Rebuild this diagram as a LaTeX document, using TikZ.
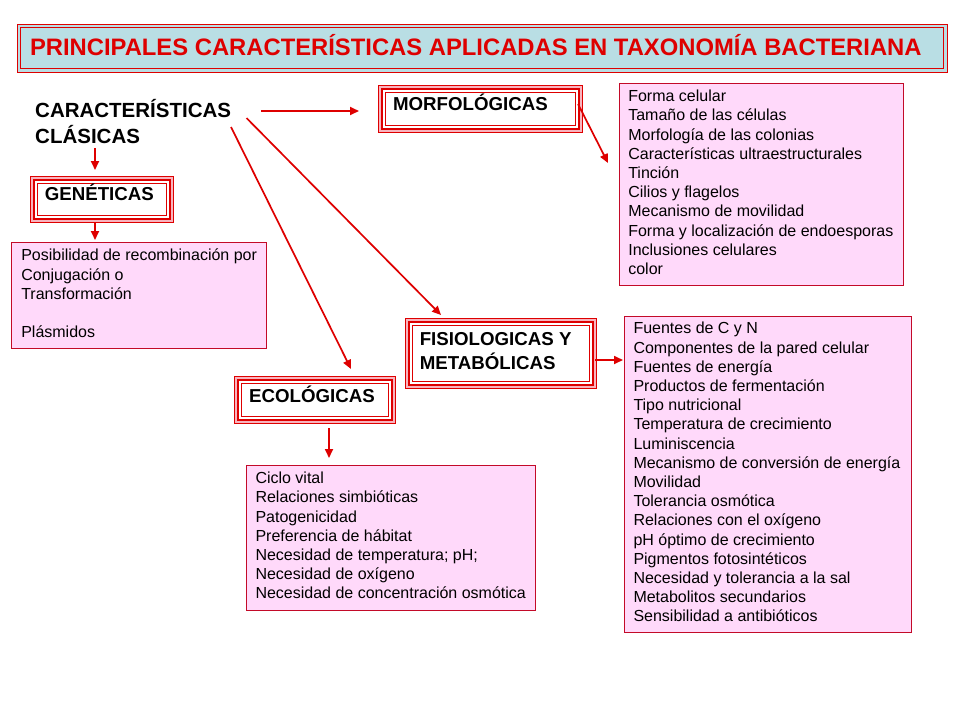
\documentclass[tikz,border=0pt]{standalone}
\usepackage{fontspec}
\setmainfont{Liberation Sans}
\usetikzlibrary{arrows.meta,backgrounds}
\definecolor{fred}{RGB}{222,0,0}
\definecolor{band}{RGB}{248,180,190}
\definecolor{tblue}{RGB}{185,222,228}
\definecolor{lpink}{RGB}{255,217,250}
\definecolor{lborder}{RGB}{195,10,40}
\newcommand\outerframe[1]{%
  \begin{scope}[on background layer]
  \draw[fred,line width=0.8pt,fill=band] ([shift={(-3.4pt,3.4pt)}]#1.north west) rectangle ([shift={(3.4pt,-3.4pt)}]#1.south east);
  \end{scope}}
\tikzset{
  innerline/.style={path picture={\draw[fred,line width=0.8pt]
     ([shift={(#1,-#1)}]path picture bounding box.north west) rectangle
     ([shift={(-#1,#1)}]path picture bounding box.south east);}},
  framebox/.style={draw=fred, line width=2pt, fill=white, inner sep=0pt, outer sep=0pt,
     anchor=north west, font=\fontsize{18.7}{22.6}\selectfont\bfseries, innerline=3.4pt},
  listbox/.style={draw=lborder, line width=0.9pt, fill=lpink, inner sep=0pt, outer sep=0pt,
     anchor=north west, font=\fontsize{16}{19.2}\selectfont},
  titlebox/.style={draw=fred, line width=0.9pt, fill=tblue, inner sep=0pt, outer sep=0pt,
     anchor=north west, text=fred, font=\fontsize{23.8}{28}\selectfont\bfseries, innerline=3.8pt},
  arr/.style={draw=fred, line width=1.7pt, -{Triangle[length=9pt,width=8pt]}}
}
\begin{document}
\begin{tikzpicture}[x=1pt,y=-1pt]
\begin{scope}[on background layer]
\useasboundingbox[fill=white] (0,0) rectangle (960,720);
\end{scope}

% title
\node[titlebox, minimum width=930, minimum height=48, text height=18pt, text depth=3.2pt] (title) at (17,24)
  {\makebox[930pt][l]{\hspace{13pt}PRINCIPALES CARACTERÍSTICAS APLICADAS EN TAXONOMÍA BACTERIANA}};

% main label
\node[anchor=base west, inner sep=0pt, font=\fontsize{20.5}{26}\selectfont\bfseries] (clas) at (35,117.3)
  {\begin{tabular}[t]{@{}l@{}}CARACTERÍSTICAS\\CLÁSICAS\end{tabular}};

% framed headings
\node[framebox, minimum width=136, minimum height=39, text height=15pt, text depth=11.6pt] (gen) at (33.5,179.5)
  {\makebox[136pt][l]{\hspace{11.3pt}GENÉTICAS}};
\node[framebox, minimum width=196.7, minimum height=40, text height=15pt, text depth=10.4pt] (morf) at (381.8,88.5)
  {\makebox[196.7pt][l]{\hspace{11.3pt}MORFOLÓGICAS}};
\node[framebox, minimum width=153.7, minimum height=40.3, text height=15pt, text depth=9pt] (eco) at (237.8,379.5)
  {\makebox[153.7pt][l]{\hspace{11.3pt}ECOLÓGICAS}};
\node[framebox, minimum width=184.7, minimum height=63, text height=15pt, text depth=30.2pt] (fis) at (408.5,321.8)
  {\makebox[184.7pt][l]{\hspace{11.3pt}\begin{tabular}[t]{@{}l@{}}FISIOLOGICAS Y\\METABÓLICAS\end{tabular}}};
\outerframe{gen}
\outerframe{morf}
\outerframe{eco}
\outerframe{fis}

% lists
\node[listbox, minimum width=255, minimum height=105.6] (genl) at (11.7,242.7)
  {\makebox[255pt][l]{\hspace{9.6pt}\begin{tabular}{@{}l@{}}Posibilidad de recombinación por\\Conjugación o\\Transformación\\\mbox{}\\Plásmidos\end{tabular}}};
\node[listbox, minimum width=284.5, minimum height=201.5] (morfl) at (619.3,83.5)
  {\makebox[284.5pt][l]{\hspace{9pt}\begin{tabular}{@{}l@{}}Forma celular\\Tamaño de las células\\Morfología de las colonias\\Características ultraestructurales\\Tinción\\Cilios y flagelos\\Mecanismo de movilidad\\Forma y localización de endoesporas\\Inclusiones celulares\\color\end{tabular}}};
\node[listbox, minimum width=289.5, minimum height=145] (ecol) at (246,465)
  {\makebox[289.5pt][l]{\hspace{9.5pt}\begin{tabular}{@{}l@{}}Ciclo vital\\Relaciones simbióticas\\Patogenicidad\\Preferencia de hábitat\\Necesidad de temperatura; pH;\\Necesidad de oxígeno\\Necesidad de concentración osmótica\end{tabular}}};
\node[listbox, minimum width=287, minimum height=316] (fisl) at (624,316)
  {\makebox[287pt][l]{\hspace{9.5pt}\begin{tabular}{@{}l@{}}Fuentes de C y N\\Componentes de la pared celular\\Fuentes de energía\\Productos de fermentación\\Tipo nutricional\\Temperatura de crecimiento\\Luminiscencia\\Mecanismo de conversión de energía\\Movilidad\\Tolerancia osmótica\\Relaciones con el oxígeno\\pH óptimo de crecimiento\\Pigmentos fotosintéticos\\Necesidad y tolerancia a la sal\\Metabolitos secundarios\\Sensibilidad a antibióticos\end{tabular}}};

% arrow end points
\coordinate (a1s) at (261,111);   \coordinate (a1e) at (359,111);
\coordinate (a2s) at (95,148);    \coordinate (a2e) at (95,170);
\coordinate (a3s) at (95,222);    \coordinate (a3e) at (95,240);
\coordinate (a4s) at (231,127);   \coordinate (a4e) at (351,369);
\coordinate (a5s) at (246.5,118); \coordinate (a5e) at (441,315);
\coordinate (a6s) at (578,104);   \coordinate (a6e) at (608,163);
\coordinate (a7s) at (595,360);   \coordinate (a7e) at (623,360);
\coordinate (a8s) at (329,428);   \coordinate (a8e) at (329,458);

\draw[arr] (a1s) -- (a1e);
\draw[arr] (a2s) -- (a2e);
\draw[arr] (a3s) -- (a3e);
\draw[arr] (a4s) -- (a4e);
\draw[arr] (a5s) -- (a5e);
\draw[arr] (a6s) -- (a6e);
\draw[arr] (a7s) -- (a7e);
\draw[arr] (a8s) -- (a8e);
\end{tikzpicture}
\end{document}
